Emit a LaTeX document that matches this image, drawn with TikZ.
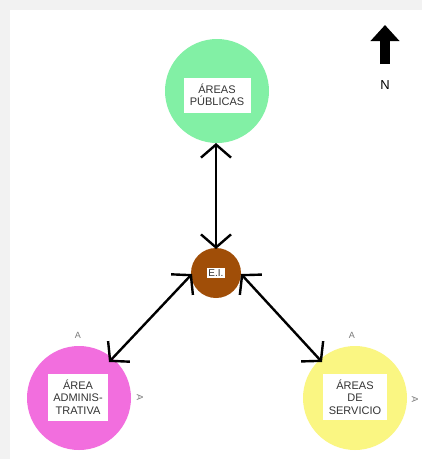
\documentclass[tikz,border=0pt]{standalone}
\usepackage{fontspec}
\setmainfont{Liberation Sans}
\usetikzlibrary{arrows.meta}
\definecolor{bggray}{RGB}{242,242,242}
\definecolor{zgreen}{RGB}{130,240,165}
\definecolor{zpink}{RGB}{242,110,222}
\definecolor{zyellow}{RGB}{250,246,130}
\definecolor{zbrown}{RGB}{160,78,8}
\definecolor{marktext}{RGB}{120,120,120}
\tikzset{
  zone/.style={circle, minimum size=104pt, inner sep=0pt},
  label box/.style={fill=white, font=\fontsize{11}{12.5}\selectfont, align=center, inner sep=3pt, text=black!80},
  link/.style={line width=2.4pt, {Straight Barb[length=13pt,width=30pt]}-{Straight Barb[length=13pt,width=30pt]}},
  tick/.style={font=\fontsize{9}{9}\selectfont, text=marktext, inner sep=0pt}
}
\begin{document}
\begin{tikzpicture}[x=1pt,y=-1pt]
\fill[bggray] (0,0) rectangle (422,459);
\fill[white] (10,10) rectangle (422,459);
\useasboundingbox (0,0) rectangle (422,459);

\node[zone, fill=zgreen] (pub) at (217,91) {};
\node[label box, minimum width=67pt, minimum height=35pt] (publ) at (217,95) {ÁREAS\\PÚBLICAS};

\node[circle, fill=zbrown, minimum size=50pt, inner sep=0pt] (ei) at (216,273) {};
\node[fill=white, font=\fontsize{10}{10}\selectfont, inner sep=1.5pt, text=black!80] (eil) at (216,273) {E.I.};

\node[zone, fill=zpink] (adm) at (79,398) {};
\node[label box, minimum width=60pt, minimum height=47pt] (adml) at (78,397) {ÁREA\\ADMINIS-\\TRATIVA};

\node[zone, fill=zyellow] (serv) at (355,398) {};
\node[label box, minimum width=64pt, minimum height=46pt] (servl) at (355,397) {ÁREAS\\DE\\SERVICIO};

\coordinate (eitop) at (216,249);
\coordinate (pubbot) at (216,143);
\draw[link] (eitop) -- (pubbot);
\coordinate (eil1) at (192,274);
\coordinate (admtip) at (109,362);
\draw[link] (eil1) -- (admtip);
\coordinate (eir1) at (241,274);
\coordinate (servtip) at (322,362);
\draw[link] (eir1) -- (servtip);

\node[tick] (t1) at (78,335) {A};
\node[tick, rotate=-90] (t2) at (140,397) {A};
\node[tick] (t3) at (352,335) {A};
\node[tick, rotate=-90] (t4) at (415,399) {A};

\coordinate (ntail) at (385,64);
\coordinate (nhead) at (385,25);
\draw[line width=10pt, -{Triangle[length=16pt,width=28pt]}] (ntail) -- (nhead);
\node[font=\fontsize{13}{13}\selectfont] (nlab) at (385,85) {N};
\end{tikzpicture}
\end{document}
